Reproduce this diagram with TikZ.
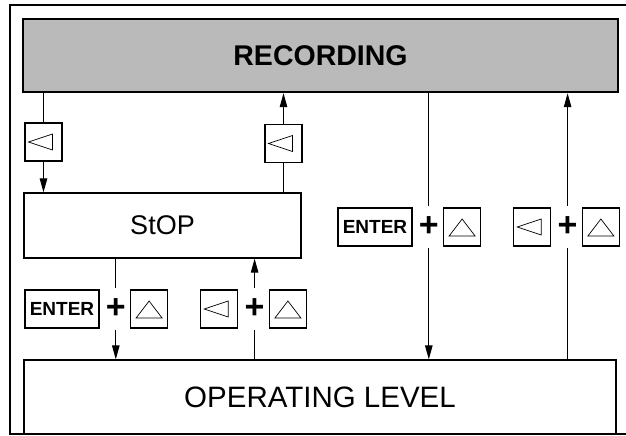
\documentclass[tikz,border=0pt]{standalone}
\usepackage{fontspec}
\setmainfont{Liberation Sans}
\usetikzlibrary{positioning,arrows.meta,calc}

% key glyphs, drawn round the centre of a key node
\newcommand{\lefttri}[1]{\draw[line width=0.7pt] ($(#1)+(-15,0)$) -- ($(#1)+(9,-8)$) -- ($(#1)+(9,8)$) -- cycle;}
\newcommand{\uptri}[1]{\draw[line width=0.7pt] ($(#1)+(0,-8)$) -- ($(#1)+(13,9)$) -- ($(#1)+(-13,9)$) -- cycle;}

\begin{document}
\begin{tikzpicture}[
          x=1pt, y=-1pt,
          node distance=4pt,
          menubox/.style={draw, line width=1.3pt, inner sep=0pt},
          key/.style={draw, line width=1.2pt, minimum width=37pt, minimum height=38pt, inner sep=0pt},
          enterkey/.style={key, minimum width=74pt, font=\bfseries\fontsize{19}{19}\selectfont},
          plussign/.style={inner sep=0pt, minimum width=24pt, minimum height=42pt, font=\bfseries\fontsize{34}{34}\selectfont},
          arr/.style={-{Triangle[length=14pt,width=7.5pt]}, line width=1pt},
          con/.style={line width=1pt}
      ]
        \useasboundingbox (0,0) rectangle (626,436);
        \draw[line width=1.2pt] (626,5) -- (10,5) -- (10,434) -- (626,434);

        \node[menubox, fill=black!27, line width=2.4pt, minimum width=595pt, minimum height=73pt, font=\bfseries\fontsize{28.5}{28.5}\selectfont] (rec) at (320.5,55.5) {RECORDING};
        \node[menubox, minimum width=277pt, minimum height=65pt, font=\fontsize{27}{27}\selectfont] (stop) at (162.5,225.5) {StOP};
        \node[menubox, minimum width=592pt, minimum height=74pt, font=\fontsize{29.5}{29.5}\selectfont] (oplevel) at (320,397) {OPERATING LEVEL};

        \node[key] (kl) at (43.5,142) {};
        \node[key] (kr) at (283.5,143.5) {};
        \lefttri{kl}
        \lefttri{kr}

        \node[enterkey] (enter1) at (62,309) {ENTER};
        \node[plussign, right=4pt of enter1] (p1) {+};
        \node[key, right=2pt of p1] (up1) {};
        \node[key, right=32pt of up1] (left2) {};
        \node[plussign, right=4pt of left2] (p2) {+};
        \node[key, right=2pt of p2] (up2) {};
        \uptri{up1}
        \lefttri{left2}
        \uptri{up2}

        \node[enterkey] (enter2) at (375,227) {ENTER};
        \node[plussign, right=4pt of enter2] (p3) {+};
        \node[key, right=2pt of p3] (up3) {};
        \node[key, right=32pt of up3] (left3) {};
        \node[plussign, right=4pt of left3] (p4) {+};
        \node[key, right=2pt of p4] (up4) {};
        \uptri{up3}
        \lefttri{left3}
        \uptri{up4}

        \draw[con] (rec.south -| kl.north) -- (kl.north);
        \draw[arr] (kl.south) -- (stop.north -| kl.south);
        \draw[con] (stop.north -| kr.south) -- (kr.south);
        \draw[arr] (kr.north) -- (rec.south -| kr.north);
        \draw[con] (stop.south -| p1.north) -- (p1.north);
        \draw[arr] (p1.south) -- (oplevel.north -| p1.south);
        \draw[con] (oplevel.north -| p2.south) -- (p2.south);
        \draw[arr] (p2.north) -- (stop.south -| p2.north);
        \draw[con] (rec.south -| p3.north) -- (p3.north);
        \draw[arr] (p3.south) -- (oplevel.north -| p3.south);
        \draw[con] (oplevel.north -| p4.south) -- (p4.south);
        \draw[arr] (p4.north) -- (rec.south -| p4.north);
      \end{tikzpicture}
\end{document}
